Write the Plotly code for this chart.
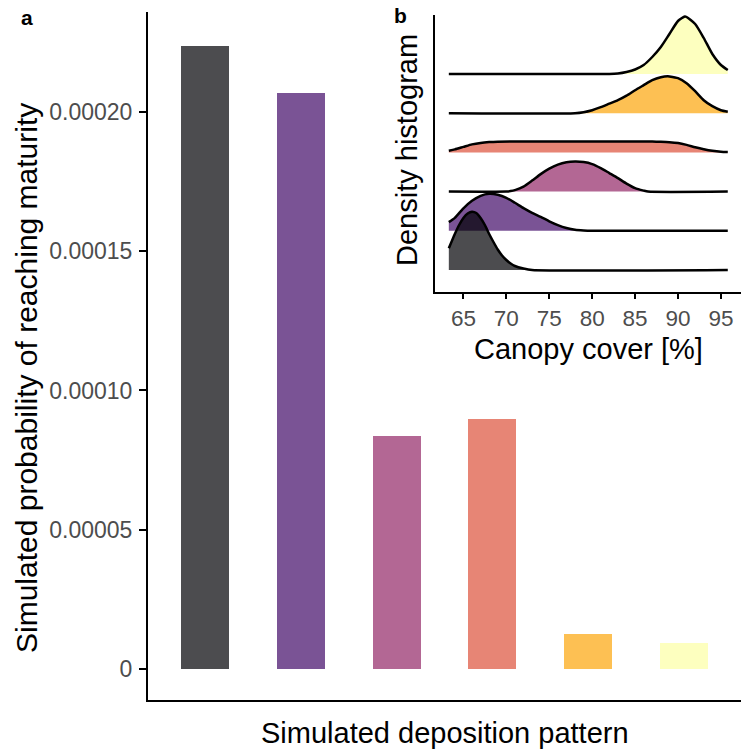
import plotly.graph_objects as go

# ---------------- data ----------------
patterns = [1, 2, 3, 4, 5, 6]
probability = [2.237e-4, 2.068e-4, 8.35e-5, 8.98e-5, 1.26e-5, 9.3e-6]
colors = ["rgba(0,0,4,0.7)", "rgba(66,10,104,0.7)", "rgba(147,38,103,0.7)",
          "rgba(221,81,58,0.7)", "rgba(252,165,10,0.7)", "rgba(252,255,164,0.7)"]

y_tickvals = [0, 5e-5, 1e-4, 1.5e-4, 2e-4]
y_ticktext = ["0", "0.00005", "0.00010", "0.00015", "0.00020"]
x2_tickvals = [65, 70, 75, 80, 85, 90, 95]

# ridge density curves (canopy cover %, density height), bottom ridge first
ridge_dark_x = [63.3, 64, 64.5, 65, 65.5, 66, 66.5, 67, 67.5, 68, 68.5, 69, 69.5, 70, 70.5, 71, 72, 73, 95.8]
ridge_dark_h = [21.7, 36, 45, 52, 56.5, 58.3, 57, 52, 45, 36, 28, 20.5, 14.5, 10, 6.5, 4, 1.5, 0, 0]

ridge_purple_x = [63.3, 64, 65, 66, 67, 68, 69, 70, 71, 72, 73, 74, 75, 76, 77, 78, 79, 80, 95.8]
ridge_purple_h = [8.7, 13, 22.5, 30, 35, 37, 36, 33, 28, 22.7, 18, 14, 9.5, 5.7, 2.8, 1, 0.3, 0, 0]

ridge_pink_x = [63.3, 70, 70.5, 71, 72, 73, 74, 75, 76, 77, 78, 79, 80, 81, 82, 83, 84, 85, 86, 86.5, 95.8]
ridge_pink_h = [0, 0, 0.5, 1.5, 5, 11, 17.5, 23, 27, 29.3, 30, 29.5, 27.5, 23.5, 18.5, 13.5, 8, 3.5, 1, 0, 0]

ridge_red_x = [63.3, 64, 65, 66, 67, 68, 69, 72, 76, 80, 84, 87, 88, 89, 90, 91, 92, 93, 94, 95, 95.8]
ridge_red_h = [1.7, 3, 5.5, 8, 9.5, 10.3, 10.7, 10.9, 10.9, 10.9, 10.9, 10.8, 10.6, 10.2, 9.3, 7.5, 5.2, 3.2, 1.6, 0.6, 0.3]

ridge_orange_x = [63.3, 78, 79, 80, 81, 82, 83, 84, 85, 86, 87, 88, 88.8, 89, 90, 91, 92, 93, 94, 95, 95.8]
ridge_orange_h = [0, 0, 1, 3, 6, 9.5, 13, 17.5, 23, 28, 33, 36, 37, 36.8, 35, 30, 22, 13, 7, 3, 1.5]

ridge_yellow_x = [63.3, 82, 83, 84, 85, 86, 87, 88, 89, 90, 90.8, 91, 92, 93, 94, 95, 95.8]
ridge_yellow_h = [0, 0, 0.5, 2, 4.5, 9, 17, 27, 40, 53, 57.5, 57, 50, 36, 20, 9, 4]

ridges_x = [ridge_dark_x, ridge_purple_x, ridge_pink_x, ridge_red_x, ridge_orange_x, ridge_yellow_x]
ridges_h = [ridge_dark_h, ridge_purple_h, ridge_pink_h, ridge_red_h, ridge_orange_h, ridge_yellow_h]

# ---------------- style ----------------
W, H = 741, 749
FONT = "Liberation Sans, Arial, sans-serif"
TICK_GREY = "#4d4d4d"
ridge_scale = 1 / 39.2

def px(xp):
    return xp / W

def py(yp):
    return 1 - yp / H

fig = go.Figure()

fig.add_trace(go.Bar(
    x=patterns, y=probability, marker=dict(color=colors, line=dict(width=0)),
    width=0.5, xaxis="x", yaxis="y", showlegend=False,
))

# ridges: draw from top to bottom so lower ridges overlay upper ones
for k in reversed(range(len(ridges_x))):
    xs = ridges_x[k]
    ys = [k + h * ridge_scale for h in ridges_h[k]]
    fig.add_trace(go.Scatter(
        x=[xs[0], xs[-1]], y=[k, k], mode="lines", line=dict(width=0, color="rgba(0,0,0,0)"),
        xaxis="x2", yaxis="y2", showlegend=False, hoverinfo="skip",
    ))
    fig.add_trace(go.Scatter(
        x=xs, y=ys, mode="lines", fill="tonexty", fillcolor=colors[k],
        line=dict(color="black", width=2.5, shape="spline", smoothing=0.6),
        xaxis="x2", yaxis="y2", showlegend=False,
    ))

axis_common = dict(showgrid=False, zeroline=False, showline=True, linecolor="black", linewidth=2)

fig.update_layout(
    width=W, height=H,
    margin=dict(l=0, r=0, t=0, b=0),
    paper_bgcolor="white", plot_bgcolor="white",
    font=dict(family=FONT, color="black"),
    bargap=0,
    xaxis=dict(domain=[px(148), 1], range=[0.4, 6.6], showticklabels=False, ticks="",
               anchor="y", **axis_common),
    yaxis=dict(domain=[py(700), py(12)], range=[-1.113e-5, 2.359e-4], anchor="x",
               tickvals=y_tickvals, ticktext=y_ticktext, ticks="outside", ticklen=7,
               tickwidth=2, tickcolor="black", ticklabelstandoff=2,
               tickfont=dict(size=23, color=TICK_GREY, family=FONT), **axis_common),
    xaxis2=dict(domain=[px(435), 1], range=[61.69, 97.34], anchor="y2",
                tickvals=x2_tickvals, ticks="outside", ticklen=5, tickwidth=2, tickcolor="black",
                tickfont=dict(size=22.5, color=TICK_GREY, family=FONT), **axis_common),
    yaxis2=dict(domain=[py(292), py(15)], range=[-0.561, 6.505], anchor="x2",
                showticklabels=False, ticks="", **axis_common),
    annotations=[
        dict(text="Simulated probability of reaching maturity", x=px(27), y=py(378),
             xref="paper", yref="paper", textangle=-90, showarrow=False,
             font=dict(size=30, color="black", family=FONT), xanchor="center", yanchor="middle"),
        dict(text="Simulated deposition pattern", x=px(445), y=py(733),
             xref="paper", yref="paper", showarrow=False,
             font=dict(size=29, color="black", family=FONT), xanchor="center", yanchor="middle"),
        dict(text="Canopy cover [%]", x=px(588), y=py(349),
             xref="paper", yref="paper", showarrow=False,
             font=dict(size=29, color="black", family=FONT), xanchor="center", yanchor="middle"),
        dict(text="Density histogram", x=px(407), y=py(150),
             xref="paper", yref="paper", textangle=-90, showarrow=False,
             font=dict(size=29, color="black", family=FONT), xanchor="center", yanchor="middle"),
        dict(text="<b>a</b>", x=px(27), y=py(18), xref="paper", yref="paper", showarrow=False,
             font=dict(size=21, color="black", family=FONT), xanchor="center", yanchor="middle"),
        dict(text="<b>b</b>", x=px(400), y=py(15), xref="paper", yref="paper", showarrow=False,
             font=dict(size=21, color="black", family=FONT), xanchor="center", yanchor="middle"),
    ],
)

fig.write_html("out.html")
